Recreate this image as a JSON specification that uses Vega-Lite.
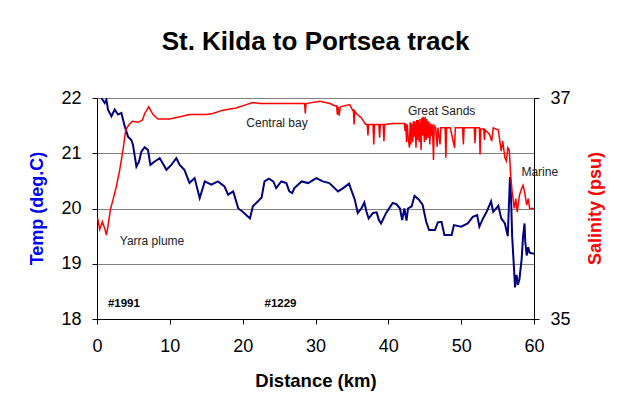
{
  "$schema": "https://vega.github.io/schema/vega-lite/v6.json",
  "width": 437,
  "height": 221,
  "autosize": "none",
  "padding": {"left": 97, "top": 98, "right": 87, "bottom": 93},
  "background": "white",
  "title": {"text": "St. Kilda to Portsea track", "fontSize": 26, "font": "Liberation Sans", "fontWeight": "bold", "color": "black", "offset": 34, "anchor": "middle"},
  "config": {"view": {"stroke": null}, "font": "Liberation Sans"},
  "layer": [
    {
      "layer": [
        {
          "data": {"values": [
            {"km":0.6,"temp":22.0},{"km":1.06,"temp":21.91},{"km":1.29,"temp":21.97},{"km":1.51,"temp":21.79},{"km":1.98,"temp":21.67},{"km":2.43,"temp":21.79},{"km":2.88,"temp":21.7},{"km":3.35,"temp":21.73},{"km":3.8,"temp":21.49},{"km":4.26,"temp":21.3},{"km":4.72,"temp":21.24},{"km":4.94,"temp":21.15},{"km":5.41,"temp":20.76},{"km":5.77,"temp":20.85},{"km":6.09,"temp":21.03},{"km":6.55,"temp":21.11},{"km":7.0,"temp":21.06},{"km":7.33,"temp":20.79},{"km":7.92,"temp":20.85},{"km":8.61,"temp":20.91},{"km":9.1,"temp":20.8},{"km":9.53,"temp":20.7},{"km":10.2,"temp":20.79},{"km":10.9,"temp":20.91},{"km":11.35,"temp":20.79},{"km":12.0,"temp":20.7},{"km":12.3,"temp":20.6},{"km":12.7,"temp":20.46},{"km":13.4,"temp":20.55},{"km":14.1,"temp":20.19},{"km":14.8,"temp":20.49},{"km":15.7,"temp":20.43},{"km":16.6,"temp":20.49},{"km":17.5,"temp":20.4},{"km":18.0,"temp":20.25},{"km":18.7,"temp":20.31},{"km":19.4,"temp":20.0},{"km":20.0,"temp":19.94},{"km":21.0,"temp":19.82},{"km":21.4,"temp":20.04},{"km":22.1,"temp":20.13},{"km":22.6,"temp":20.2},{"km":23.0,"temp":20.49},{"km":23.6,"temp":20.54},{"km":24.2,"temp":20.49},{"km":24.6,"temp":20.37},{"km":25.3,"temp":20.49},{"km":26.0,"temp":20.46},{"km":26.4,"temp":20.31},{"km":26.8,"temp":20.28},{"km":27.1,"temp":20.37},{"km":28.1,"temp":20.49},{"km":29.0,"temp":20.46},{"km":30.1,"temp":20.55},{"km":31.0,"temp":20.49},{"km":31.9,"temp":20.46},{"km":33.1,"temp":20.31},{"km":33.8,"temp":20.37},{"km":34.6,"temp":20.45},{"km":35.4,"temp":20.16},{"km":35.8,"temp":19.92},{"km":36.3,"temp":20.0},{"km":36.7,"temp":20.11},{"km":37.0,"temp":19.94},{"km":37.3,"temp":19.82},{"km":37.9,"temp":19.92},{"km":38.4,"temp":19.93},{"km":38.7,"temp":19.79},{"km":39.0,"temp":19.73},{"km":39.7,"temp":19.92},{"km":40.6,"temp":20.1},{"km":41.1,"temp":20.08},{"km":41.6,"temp":20.0},{"km":41.9,"temp":19.79},{"km":42.2,"temp":20.0},{"km":42.5,"temp":19.78},{"km":42.7,"temp":20.0},{"km":43.2,"temp":20.04},{"km":43.6,"temp":20.23},{"km":44.2,"temp":20.16},{"km":44.7,"temp":20.07},{"km":45.2,"temp":19.76},{"km":45.6,"temp":19.61},{"km":46.4,"temp":19.61},{"km":46.8,"temp":19.75},{"km":47.3,"temp":19.76},{"km":47.7,"temp":19.52},{"km":48.7,"temp":19.52},{"km":49.0,"temp":19.7},{"km":50.0,"temp":19.67},{"km":50.9,"temp":19.73},{"km":51.6,"temp":19.85},{"km":52.2,"temp":19.88},{"km":52.5,"temp":19.67},{"km":53.0,"temp":19.82},{"km":53.5,"temp":19.94},{"km":54.1,"temp":20.13},{"km":54.4,"temp":19.94},{"km":55.1,"temp":20.05},{"km":55.5,"temp":19.82},{"km":56.0,"temp":19.73},{"km":56.4,"temp":19.5},{"km":56.7,"temp":20.57},{"km":56.85,"temp":20.2},{"km":57.0,"temp":19.5},{"km":57.2,"temp":19.04},{"km":57.4,"temp":18.57},{"km":57.6,"temp":18.8},{"km":57.8,"temp":18.62},{"km":58.0,"temp":18.72},{"km":58.3,"temp":19.08},{"km":58.5,"temp":19.5},{"km":58.7,"temp":19.73},{"km":58.8,"temp":19.4},{"km":59.0,"temp":19.15},{"km":59.2,"temp":19.3},{"km":59.4,"temp":19.2},{"km":60.0,"temp":19.18}
          ]},
          "mark": {"type": "line", "color": "#000080", "strokeWidth": 2, "clip": true},
          "encoding": {
            "x": {"field": "km", "type": "quantitative", "scale": {"domain": [0, 60], "nice": false},
              "axis": {"title": "Distance (km)", "values": [0,10,20,30,40,50,60], "format": "d", "grid": false, "domainColor": "black", "tickColor": "black", "tickSize": 5, "labelFontSize": 18, "labelColor": "black", "labelPadding": 13, "labelFlush": false, "titleFontSize": 18.5, "titleFontWeight": "bold", "titleColor": "black", "titlePadding": 16}},
            "y": {"field": "temp", "type": "quantitative", "scale": {"domain": [18, 22], "nice": false},
              "axis": {"title": "Temp (deg.C)", "values": [18,19,20,21,22], "format": "d", "grid": true, "gridColor": "#808080", "gridWidth": 1, "domainColor": "black", "tickColor": "black", "tickSize": 5, "labelFontSize": 18, "labelColor": "black", "labelPadding": 11, "titleColor": "#0000FF", "titleFontSize": 18, "titleFontWeight": "bold", "titleX": -60, "titleY": 110, "titleAngle": 270, "titleAlign": "center", "titleBaseline": "middle"}}
          }
        },
        {
          "data": {"values": [
            {"km": 3.13, "temp": 19.41, "label": "Yarra plume"},
            {"km": 20.5, "temp": 21.55, "label": "Central bay"},
            {"km": 42.7, "temp": 21.76, "label": "Great Sands"},
            {"km": 58.27, "temp": 20.66, "label": "Marine"}
          ]},
          "mark": {"type": "text", "align": "left", "baseline": "middle", "fontSize": 12, "color": "#222222", "font": "Liberation Sans"},
          "encoding": {
            "x": {"field": "km", "type": "quantitative"},
            "y": {"field": "temp", "type": "quantitative"},
            "text": {"field": "label"}
          }
        },
        {
          "data": {"values": [
            {"km": 1.5, "temp": 18.27, "label": "#1991"},
            {"km": 23.0, "temp": 18.27, "label": "#1229"}
          ]},
          "mark": {"type": "text", "align": "left", "baseline": "middle", "fontSize": 11.5, "fontWeight": "bold", "color": "black", "font": "Liberation Sans"},
          "encoding": {
            "x": {"field": "km", "type": "quantitative"},
            "y": {"field": "temp", "type": "quantitative"},
            "text": {"field": "label"}
          }
        }
      ]
    },
    {
      "data": {"values": [
        {"km":0.1,"sal":35.91},{"km":0.37,"sal":35.81},{"km":0.74,"sal":35.88},{"km":1.06,"sal":35.82},{"km":1.29,"sal":35.76},{"km":1.51,"sal":35.84},{"km":1.84,"sal":35.99},{"km":2.2,"sal":36.08},{"km":2.66,"sal":36.2},{"km":3.12,"sal":36.35},{"km":3.57,"sal":36.53},{"km":3.94,"sal":36.71},{"km":4.4,"sal":36.76},{"km":4.86,"sal":36.79},{"km":5.63,"sal":36.78},{"km":6.23,"sal":36.8},{"km":6.55,"sal":36.86},{"km":7.1,"sal":36.92},{"km":7.69,"sal":36.85},{"km":8.38,"sal":36.81},{"km":9.98,"sal":36.81},{"km":11.4,"sal":36.83},{"km":12.7,"sal":36.85},{"km":15.0,"sal":36.85},{"km":15.9,"sal":36.86},{"km":17.3,"sal":36.89},{"km":19.1,"sal":36.91},{"km":20.5,"sal":36.94},{"km":21.4,"sal":36.96},{"km":22.3,"sal":36.95},{"km":26.0,"sal":36.95},{"km":28.5,"sal":36.95},{"km":28.6,"sal":36.86},{"km":28.7,"sal":36.95},{"km":30.6,"sal":36.97},{"km":32.0,"sal":36.95},{"km":32.6,"sal":36.93},{"km":32.9,"sal":36.93},{"km":33.0,"sal":36.85},{"km":33.1,"sal":36.92},{"km":33.25,"sal":36.84},{"km":33.4,"sal":36.92},{"km":34.7,"sal":36.94},{"km":35.1,"sal":36.89},{"km":35.2,"sal":36.89},{"km":35.3,"sal":36.76},{"km":35.4,"sal":36.88},{"km":35.6,"sal":36.86},{"km":36.3,"sal":36.82},{"km":36.9,"sal":36.76},{"km":37.1,"sal":36.76},{"km":37.2,"sal":36.66},{"km":37.3,"sal":36.76},{"km":37.9,"sal":36.76},{"km":38.0,"sal":36.58},{"km":38.1,"sal":36.76},{"km":38.7,"sal":36.76},{"km":38.8,"sal":36.64},{"km":38.9,"sal":36.76},{"km":39.3,"sal":36.76},{"km":39.4,"sal":36.61},{"km":39.5,"sal":36.76},{"km":40.6,"sal":36.77},{"km":42.0,"sal":36.77},{"km":42.2,"sal":36.77},{"km":42.3,"sal":36.7},{"km":42.4,"sal":36.77},{"km":42.5,"sal":36.6},{"km":42.6,"sal":36.76},{"km":42.75,"sal":36.62},{"km":42.9,"sal":36.55},{"km":43.0,"sal":36.78},{"km":43.1,"sal":36.58},{"km":43.2,"sal":36.77},{"km":43.35,"sal":36.6},{"km":43.45,"sal":36.79},{"km":43.55,"sal":36.65},{"km":43.65,"sal":36.79},{"km":43.8,"sal":36.55},{"km":43.9,"sal":36.8},{"km":44.0,"sal":36.62},{"km":44.1,"sal":36.8},{"km":44.25,"sal":36.6},{"km":44.35,"sal":36.81},{"km":44.5,"sal":36.53},{"km":44.6,"sal":36.82},{"km":44.7,"sal":36.66},{"km":44.8,"sal":36.83},{"km":44.95,"sal":36.6},{"km":45.05,"sal":36.83},{"km":45.2,"sal":36.62},{"km":45.3,"sal":36.81},{"km":45.45,"sal":36.64},{"km":45.55,"sal":36.79},{"km":45.7,"sal":36.58},{"km":45.8,"sal":36.77},{"km":45.95,"sal":36.66},{"km":46.05,"sal":36.76},{"km":46.2,"sal":36.44},{"km":46.3,"sal":36.75},{"km":46.5,"sal":36.73},{"km":46.7,"sal":36.56},{"km":46.8,"sal":36.73},{"km":47.1,"sal":36.58},{"km":47.2,"sal":36.73},{"km":47.8,"sal":36.73},{"km":47.9,"sal":36.46},{"km":48.0,"sal":36.73},{"km":48.5,"sal":36.73},{"km":49.1,"sal":36.55},{"km":49.2,"sal":36.73},{"km":50.2,"sal":36.73},{"km":50.3,"sal":36.58},{"km":50.4,"sal":36.73},{"km":51.8,"sal":36.73},{"km":51.9,"sal":36.59},{"km":52.0,"sal":36.73},{"km":52.5,"sal":36.73},{"km":52.6,"sal":36.49},{"km":52.7,"sal":36.72},{"km":53.1,"sal":36.72},{"km":53.2,"sal":36.62},{"km":53.3,"sal":36.71},{"km":53.9,"sal":36.67},{"km":54.2,"sal":36.61},{"km":54.4,"sal":36.73},{"km":55.1,"sal":36.71},{"km":55.5,"sal":36.52},{"km":55.7,"sal":36.61},{"km":56.0,"sal":36.46},{"km":56.2,"sal":36.43},{"km":56.4,"sal":36.55},{"km":56.6,"sal":36.53},{"km":56.8,"sal":36.3},{"km":57.0,"sal":36.15},{"km":57.3,"sal":36.0},{"km":57.5,"sal":36.09},{"km":57.7,"sal":35.97},{"km":58.0,"sal":36.12},{"km":58.3,"sal":36.18},{"km":58.5,"sal":36.21},{"km":58.7,"sal":36.15},{"km":59.0,"sal":36.03},{"km":59.2,"sal":36.09},{"km":59.4,"sal":36.0},{"km":60.0,"sal":36.0}
      ]},
      "mark": {"type": "line", "color": "#FF0000", "strokeWidth": 1.5, "clip": true},
      "encoding": {
        "x": {"field": "km", "type": "quantitative"},
        "y": {"field": "sal", "type": "quantitative", "scale": {"domain": [35, 37], "nice": false},
          "axis": {"orient": "right", "title": "Salinity (psu)", "values": [35,36,37], "format": "d", "grid": false, "domainColor": "black", "tickColor": "black", "tickSize": 5, "labelFontSize": 18, "labelColor": "black", "labelPadding": 11, "titleColor": "#FF0000", "titleFontSize": 18, "titleFontWeight": "bold", "titleX": 61, "titleY": 110, "titleAngle": 270, "titleAlign": "center", "titleBaseline": "middle"}}
      }
    }
  ],
  "resolve": {"scale": {"y": "independent"}}
}
